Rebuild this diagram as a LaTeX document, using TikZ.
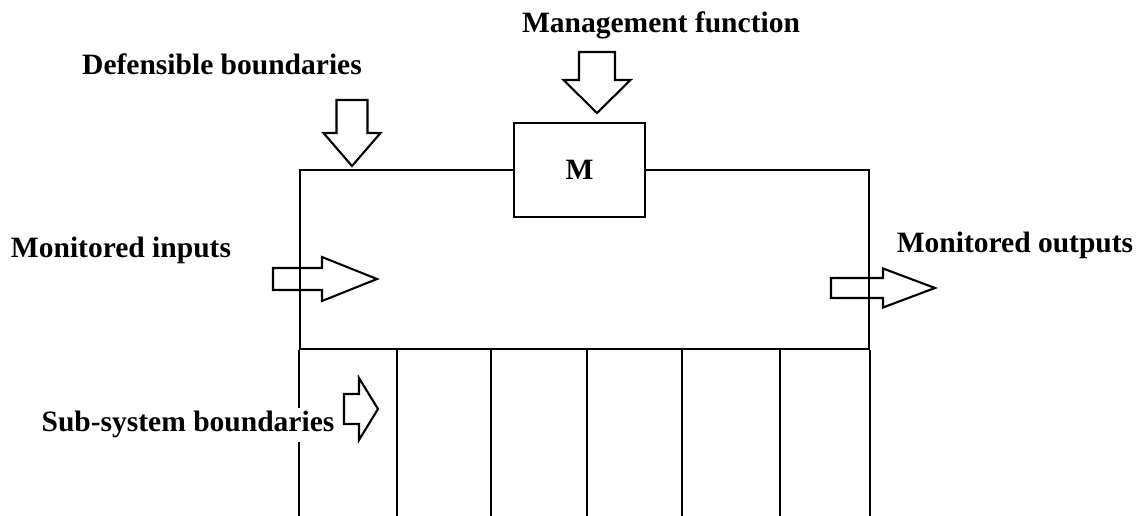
\documentclass[tikz,border=0pt]{standalone}
\usepackage{fontspec}
\setmainfont{Liberation Serif}

\tikzset{
    lbl/.style={font=\bfseries\fontsize{16.8}{20}\selectfont, anchor=base, inner sep=2pt},
    % hollow block arrow, tip at the origin, pointing along +x
    % length / head length / half shaft width / half head width
    pics/blockarrow/.style args={#1/#2/#3/#4}{code={
        \draw (0,0) -- (-#2,#4) -- (-#2,#3) -- (-#1,#3) -- (-#1,-#3) -- (-#2,-#3) -- (-#2,-#4) -- cycle;
    }}
}

\begin{document}
\begin{tikzpicture}[x=0.02cm, y=-0.02cm, line width=1.2pt, line join=miter]
            \useasboundingbox (0,0) rectangle (1137,516);

            % system and its sub-systems
            \node (sys) [draw, minimum width=11.38cm, minimum height=3.58cm, inner sep=0pt] at (584.5,259.5) {};
            \draw (sys.south west) -- ++(0,167);
            \draw (sys.south east) -- ++(0,167);
            \foreach \x in {397,491,587,682,780}
                \draw (\x,349) -- (\x,516);

            \node (mgr) [draw, fill=white, minimum width=2.62cm, minimum height=1.88cm, inner sep=0pt] at (579.5,170) {};
            \node [lbl, anchor=center] at (mgr.center) {M};

            % labels
            \node (mgmt) [lbl] at (661,33) {Management function};
            \node (def) [lbl] at (222,75) {Defensible boundaries};
            \node (min) [lbl] at (121,258) {Monitored inputs};
            \node (mout) [lbl] at (1015,253) {Monitored outputs};
            \node (sub) [lbl, fill=white] at (188,432) {Sub-system boundaries};

            % arrows
            \pic[rotate=-90] at (597,113) {blockarrow=61/33/18/33.5};
            \pic[rotate=-90] at (352,166) {blockarrow=66/33/15.5/28.5};
            \pic at (377,279) {blockarrow=104/55/11/22};
            \pic at (935,288) {blockarrow=104/52/10/19.5};
            \pic at (378,409) {blockarrow=34/19/15/31};
        \end{tikzpicture}
\end{document}
